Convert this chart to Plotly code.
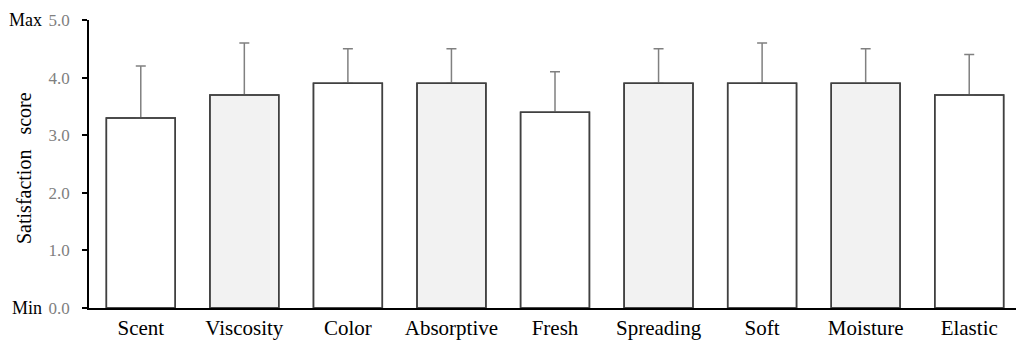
import plotly.graph_objects as go

categories = ["Scent", "Viscosity", "Color", "Absorptive", "Fresh", "Spreading", "Soft", "Moisture", "Elastic"]
means = [3.3, 3.7, 3.9, 3.9, 3.4, 3.9, 3.9, 3.9, 3.7]
errors = [0.9, 0.9, 0.6, 0.6, 0.7, 0.6, 0.7, 0.6, 0.7]
fills = ["#ffffff", "#f2f2f2", "#ffffff", "#f2f2f2", "#ffffff", "#f2f2f2", "#ffffff", "#f2f2f2", "#ffffff"]
yticks = [0, 1, 2, 3, 4, 5]
ytick_labels = ["0.0", "1.0", "2.0", "3.0", "4.0", "5.0"]

FONT = "'Times New Roman', 'Liberation Serif', 'DejaVu Serif', serif"

fig = go.Figure()
# filled bars with upward error bars
fig.add_trace(go.Bar(
    x=categories, y=means,
    marker=dict(color=fills, line=dict(color="#404040", width=1.5)),
    width=0.665,
    error_y=dict(type="data", symmetric=False, array=errors, arrayminus=[0]*len(errors),
                 color="#808080", thickness=1.5, width=5),
    showlegend=False, hoverinfo="skip",
))
# outline redrawn on top so the bar edge stays dark under the error bar base
fig.add_trace(go.Bar(
    x=categories, y=means,
    marker=dict(color="rgba(0,0,0,0)", line=dict(color="#404040", width=1.5)),
    width=0.665, showlegend=False,
))

fig.update_layout(
    barmode="overlay",
    width=1016, height=335,
    margin=dict(l=81, r=3, t=9, b=26),
    paper_bgcolor="white", plot_bgcolor="white",
    font=dict(family=FONT, size=20, color="#000000"),
    xaxis=dict(showline=True, linecolor="#000000", linewidth=1.5, ticks="",
               tickfont=dict(family=FONT, size=21, color="#000000"), showgrid=False, zeroline=False),
    yaxis=dict(range=[0, 5], tickvals=yticks, ticktext=ytick_labels, showline=True,
               linecolor="#000000", linewidth=1.5, ticks="outside", ticklen=5,
               tickcolor="#000000", tickwidth=1.5, ticklabelstandoff=9,
               ticklabeloverflow="allow",
               tickfont=dict(family=FONT, size=17, color="#808080"), showgrid=False, zeroline=False),
)

fig.add_annotation(text="Satisfaction&nbsp;&nbsp; score", xref="paper", yref="paper", x=0, y=0.5,
                   xanchor="center", yanchor="middle",
                   xshift=-65, yshift=-4, textangle=-90, showarrow=False,
                   font=dict(size=20, color="#000000", family=FONT))
fig.add_annotation(text="Max", xref="paper", yref="y", x=0, y=5, xanchor="right",
                   xshift=-45, showarrow=False, font=dict(size=18, color="#000000", family=FONT))
fig.add_annotation(text="Min", xref="paper", yref="y", x=0, y=0, xanchor="right",
                   xshift=-45, showarrow=False, font=dict(size=18, color="#000000", family=FONT))

fig.write_html("out.html")
